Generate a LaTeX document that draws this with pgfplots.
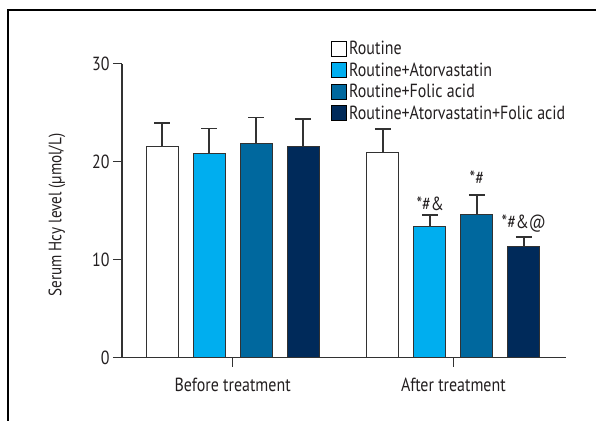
\documentclass[border=0pt]{standalone}
\usepackage{fontspec}
\setmainfont{PT Sans}[FakeStretch=0.84]
\usepackage{pgfplots}
\pgfplotsset{compat=1.18}
\definecolor{lblue}{RGB}{0,174,239}
\definecolor{mblue}{RGB}{0,104,158}
\definecolor{dblue}{RGB}{0,42,90}
\definecolor{axc}{RGB}{50,50,50}
\definecolor{txt}{RGB}{35,31,32}
\pgfplotsset{myerr/.style={
  error bars/y dir=plus, error bars/y explicit,
  error bars/error bar style={line width=1.4pt, draw=axc},
  error bars/error mark options={rotate=90, mark size=8pt, line width=1.4pt, draw=axc}}}
\begin{document}
\begin{tikzpicture}
\useasboundingbox (-122pt,-62.3pt) rectangle (474pt,357.7pt);
\draw[line width=1.2pt, black] (-114pt,-70pt) -- (-114pt,347.7pt) -- (480pt,347.7pt);
\begin{axis}[
  scale only axis, width=444pt, height=294pt,
  at={(0pt,0pt)}, anchor=south west,
  xmin=-0.501, xmax=1.51, ymin=0, ymax=30,
  axis lines*=left,
  axis line style={line width=1.2pt, draw=axc},
  tick style={line width=1.2pt, draw=axc},
  tick align=outside, major tick length=9pt,
  xtick={0,1}, xticklabels={Before treatment, After treatment},
  ytick={0,10,20,30},
  /pgf/number format/assume math mode=true,
  ticklabel style={font=\fontsize{19}{22}\selectfont, text=txt},
  x tick label style={yshift=-7.5pt},
  ylabel={Serum Hcy level (µmol/L)},
  y label style={at={(axis description cs:-0.1464,0.485)}, anchor=center, font=\fontsize{18}{21}\selectfont, text=txt},
  ybar=15pt, bar width=32pt,
  clip=false,
  legend style={at={(axis description cs:0.4707,1.084)}, anchor=north west, draw=none, fill=none, inner sep=0pt, row sep=2.6pt, font=\fontsize{19}{22}\selectfont, text=txt, cells={anchor=west}},
  legend image code/.code={\draw[#1, draw=black, line width=1pt] (0pt,-7.5pt) rectangle (15pt,7.5pt);},
]
\addplot[fill=white, draw=axc, line width=1pt, myerr] coordinates {(0,21.57) +- (0,2.38) (1,20.89) +- (0,2.45)};
\addplot[fill=lblue, draw=axc, line width=1pt, myerr] coordinates {(0,20.82) +- (0,2.58) (1,13.40) +- (0,1.16)};
\addplot[fill=mblue, draw=axc, line width=1pt, myerr] coordinates {(0,21.84) +- (0,2.66) (1,14.63) +- (0,1.97)};
\addplot[fill=dblue, draw=axc, line width=1pt, myerr] coordinates {(0,21.57) +- (0,2.79) (1,11.33) +- (0,0.99)};
\legend{Routine, Routine+Atorvastatin, Routine+Folic acid, Routine+Atorvastatin+Folic acid}
\node[font=\fontsize{19}{22}\selectfont, text=txt] at (axis cs:0.895,15.68) {*\#\&};
\node[font=\fontsize{19}{22}\selectfont, text=txt] at (axis cs:1.106,18.34) {*\#};
\node[font=\fontsize{19}{22}\selectfont, text=txt] at (axis cs:1.319,13.64) {*\#\&@};
\end{axis}
\end{tikzpicture}
\end{document}
